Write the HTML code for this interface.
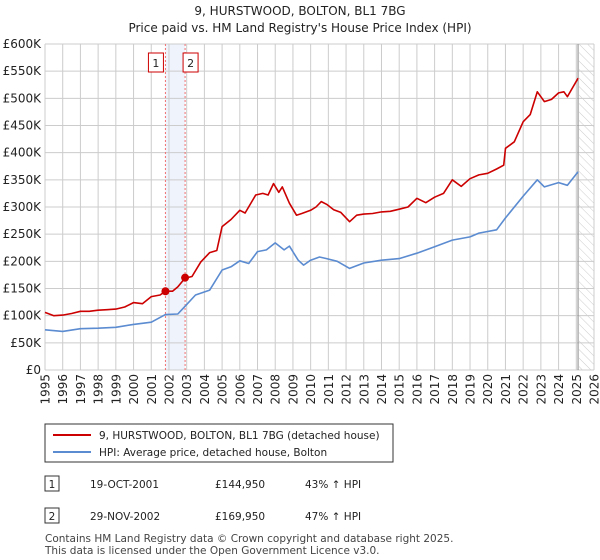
<!DOCTYPE html>
<html><head><meta charset="utf-8"><style>
body{margin:0;background:#fff;font-family:"DejaVu Sans","Liberation Sans",sans-serif;}
svg{display:block}
</style></head><body>
<svg id="c" width="600" height="560" xmlns="http://www.w3.org/2000/svg" font-family="DejaVu Sans, Liberation Sans, sans-serif">
<defs><pattern id="hatch" width="6" height="6" patternUnits="userSpaceOnUse" patternTransform="rotate(-45)"><line x1="0" y1="0" x2="0" y2="6" stroke="#ccc" stroke-width="1"/></pattern></defs>
<text x="300" y="15" text-anchor="middle" font-size="12" fill="#222">9, HURSTWOOD, BOLTON, BL1 7BG</text>
<text x="300" y="32" text-anchor="middle" font-size="12" fill="#222">Price paid vs. HM Land Registry's House Price Index (HPI)</text>
<g id="grid"></g><g id="marks"></g>
<g>
<rect x="45" y="424" width="348" height="38" fill="#fff" stroke="#333"/>
<line x1="53" y1="435" x2="91" y2="435" stroke="#cc0000" stroke-width="2"/>
<text x="99" y="439" font-size="10.5" fill="#222">9, HURSTWOOD, BOLTON, BL1 7BG (detached house)</text>
<line x1="53" y1="452" x2="91" y2="452" stroke="#5b8bd0" stroke-width="2"/>
<text x="99" y="456" font-size="10.5" fill="#222">HPI: Average price, detached house, Bolton</text>
</g>
<g font-size="10.5" fill="#222">
<rect x="45" y="476" width="14" height="15" fill="#fff" stroke="#333"/><text x="52" y="488" text-anchor="middle">1</text>
<text x="90" y="488">19-OCT-2001</text><text x="215" y="488">£144,950</text><text x="305" y="488">43% ↑ HPI</text>
<rect x="45" y="508" width="14" height="15" fill="#fff" stroke="#333"/><text x="52" y="520" text-anchor="middle">2</text>
<text x="90" y="520">29-NOV-2002</text><text x="215" y="520">£169,950</text><text x="305" y="520">47% ↑ HPI</text>
</g>
<text x="45" y="542" font-size="10.5" fill="#444">Contains HM Land Registry data © Crown copyright and database right 2025.</text>
<text x="45" y="554" font-size="10.5" fill="#444">This data is licensed under the Open Government Licence v3.0.</text>
</svg>
<script>
const yTicks=[0,50,100,150,200,250,300,350,400,450,500,550,600];
const yTickLabels=["£0","£50K","£100K","£150K","£200K","£250K","£300K","£350K","£400K","£450K","£500K","£550K","£600K"];
const xYears=[1995,1996,1997,1998,1999,2000,2001,2002,2003,2004,2005,2006,2007,2008,2009,2010,2011,2012,2013,2014,2015,2016,2017,2018,2019,2020,2021,2022,2023,2024,2025,2026];
const redT=[1995,1995.5,1996,1996.5,1997,1997.5,1998,1998.5,1999,1999.5,2000,2000.5,2001,2001.5,2001.8,2002.2,2002.5,2002.9,2003.3,2003.8,2004.3,2004.7,2005,2005.5,2006,2006.3,2006.9,2007.3,2007.6,2007.9,2008.2,2008.4,2008.8,2009.2,2009.5,2010,2010.3,2010.6,2010.9,2011.3,2011.7,2012.2,2012.6,2013,2013.5,2014,2014.5,2015,2015.5,2016,2016.5,2017,2017.5,2018,2018.5,2019,2019.5,2020,2020.5,2020.9,2021,2021.5,2022,2022.4,2022.8,2023.2,2023.6,2024,2024.3,2024.5,2024.8,2025.1];
const redV=[106,100,101,104,108,108,110,111,112,116,124,122,135,138,145,145,153,169,172,199,216,220,264,277,294,289,322,325,322,343,327,337,307,285,288,294,300,310,305,295,290,273,285,287,288,291,292,296,300,316,308,318,325,350,338,352,359,362,370,377,408,420,457,470,512,494,498,510,512,503,520,537];
const hpiT=[1995,1996,1997,1998,1999,2000,2001,2001.8,2002.5,2002.9,2003.5,2004.3,2005,2005.5,2006,2006.5,2007,2007.5,2008,2008.5,2008.8,2009.3,2009.6,2010,2010.5,2010.9,2011.5,2012.2,2013,2014,2015,2016,2017,2018,2019,2019.5,2020.5,2021,2022,2022.8,2023.2,2024,2024.5,2025.1];
const hpiV=[74,71,76,77,78.5,84,88,102,103,117,138,147,184,190,201,196,218,221,234,221,228,202,193,202,208,205,200,187,197,202,205,215,227,239,245,252,258,280,320,350,337,345,340,365];
const saleT=[2001.8,2002.91];
const saleV=[144.95,169.95];
const saleLabels=["1","2"];
const X0=45,X1=594,Y0=370,Y1=44;
const xs=t=>X0+(t-1995)/(2026-1995)*(X1-X0);
const ys=v=>Y0-v/600*(Y0-Y1);
const NS="http://www.w3.org/2000/svg";
function mk(tag,attrs,parent){const e=document.createElementNS(NS,tag);for(const k in attrs)e.setAttribute(k,attrs[k]);parent.appendChild(e);return e;}
const g=document.getElementById('grid'),m=document.getElementById('marks');
let band=mk('rect',{x:xs(saleT[0]),y:Y1,width:xs(saleT[1])-xs(saleT[0]),height:Y0-Y1,fill:'#eef3fc'},g);


let hat=mk('rect',{x:xs(2025.15),y:Y1,width:X1-xs(2025.15),height:Y0-Y1,fill:'url(#hatch)'},g);


yTicks.forEach((v,i)=>{
 let l=mk('line',{x1:X0,x2:X1,y1:ys(v),y2:ys(v),stroke:'#ccc'},g);
 
 
 let t=mk('text',{x:X0-4,y:ys(v)+4,'text-anchor':'end','font-size':12,fill:'#222'},g);
 t.textContent=yTickLabels[i];
 
 
});
xYears.forEach(y=>{
 let l=mk('line',{x1:xs(y),x2:xs(y),y1:Y1,y2:Y0,stroke:'#ccc'},g);
 
 
 let x=xs(y)+4.5;
 let t=mk('text',{x:x,y:374,'text-anchor':'end','font-size':12,fill:'#222',transform:'rotate(-90 '+x+' 374)'},g);
 t.textContent=y;
 
 
});
let nl=mk('line',{x1:xs(2025.1),x2:xs(2025.1),y1:Y1,y2:Y0,stroke:'#888','stroke-width':1},g);


saleT.forEach((t,i)=>{
 let l=mk('line',{x1:xs(t),x2:xs(t),y1:Y1,y2:Y0,stroke:'#f07070','stroke-dasharray':'2,2'},m);
 
 
 let r=mk('rect',{x:xs(t)-(i==0?17:2),y:53,width:15,height:19,fill:'#fff',stroke:'#cc0000'},m);
 
 
 let tx=mk('text',{x:xs(t)-(i==0?9.5:-5.5),y:67,'text-anchor':'middle','font-size':11,fill:'#222'},m);
 tx.textContent=saleLabels[i];
 
 
});
function path(T,V,col,name){
 let d=T.map((t,i)=>(i?'L':'M')+xs(t).toFixed(1)+','+ys(V[i]).toFixed(1)).join('');
 let p=mk('path',{d:d,fill:'none',stroke:col,'stroke-width':1.6,'stroke-linejoin':'round'},m);
 
 
}
path(hpiT,hpiV,'#5b8bd0','hpi-line');
path(redT,redV,'#cc0000','property-price-line');
saleT.forEach((t,i)=>{
 let c=mk('circle',{cx:xs(t),cy:ys(saleV[i]),r:4,fill:'#cc0000'},m);
 
 
});
</script>
</body></html>
